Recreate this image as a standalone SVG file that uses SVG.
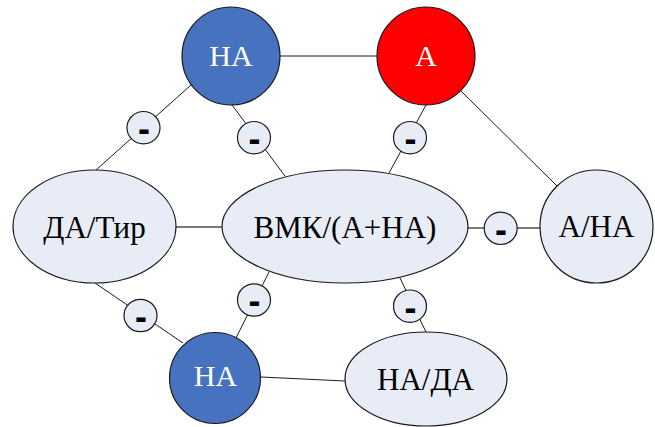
<svg xmlns="http://www.w3.org/2000/svg" width="655" height="427" viewBox="0 0 655 427">
  <style>
    .edge { stroke: #1a1a1a; stroke-width: 1; fill: none; }
    .edge-gray { stroke: #7a7a7a; stroke-width: 2.2; fill: none; }
    .node { stroke: #1a1a1a; stroke-width: 1.2; }
    .light { fill: #e7ecf6; }
    .blue { fill: #4672bf; }
    .red { fill: #ff0000; }
    .label { font-family: "Liberation Serif", "Times New Roman", serif; text-anchor: middle; }
    .big { font-size: 31px; fill: #000; }
    .white { font-size: 30px; fill: #ffffff; }
    .minus { font-family: "Liberation Sans", Arial, sans-serif; font-weight: bold; font-size: 36px; text-anchor: middle; fill: #000; }
  </style>
  <rect width="655" height="427" fill="#ffffff"/>

  <g id="connectors">
    <line class="edge" x1="191" y1="85" x2="96" y2="170"/>
    <line class="edge" x1="232" y1="105" x2="285" y2="176"/>
    <line class="edge" x1="426" y1="105" x2="389" y2="173"/>
    <line class="edge" x1="280" y1="56" x2="377" y2="56"/>
    <line class="edge" x1="461" y1="91" x2="557" y2="186"/>
    <line class="edge-gray" x1="176" y1="227" x2="222" y2="227"/>
    <line class="edge-gray" x1="468" y1="228" x2="540" y2="228"/>
    <line class="edge" x1="95" y1="283" x2="183" y2="343"/>
    <line class="edge" x1="269" y1="272" x2="236" y2="338"/>
    <line class="edge" x1="400" y1="278" x2="426" y2="332"/>
    <line class="edge" x1="261" y1="377" x2="345" y2="381"/>
  </g>

  <g id="na-top">
    <circle class="node blue" cx="231" cy="56" r="49"/>
    <text class="label white" x="231" y="66">НА</text>
  </g>
  <g id="a-red">
    <circle class="node red" cx="426" cy="56" r="49"/>
    <text class="label white" x="426" y="66">А</text>
  </g>
  <g id="da-tir">
    <ellipse class="node light" cx="94.5" cy="226.5" rx="81.5" ry="56.5"/>
    <text class="label big" x="94.5" y="237.5">ДА/Тир</text>
  </g>
  <g id="vmk">
    <ellipse class="node light" cx="345" cy="226.5" rx="123" ry="56.5"/>
    <text class="label big" x="345" y="237.5">ВМК/(А+НА)</text>
  </g>
  <g id="a-na">
    <circle class="node light" cx="596.5" cy="226.5" r="56.5"/>
    <text class="label big" x="596.5" y="237">А/НА</text>
  </g>
  <g id="na-bottom">
    <circle class="node blue" cx="215" cy="378" r="45.5"/>
    <text class="label white" x="215.5" y="386">НА</text>
  </g>
  <g id="na-da">
    <ellipse class="node light" cx="426" cy="379" rx="81" ry="47"/>
    <text class="label big" x="425.5" y="390">НА/ДА</text>
  </g>

  <g id="inhibit-1">
    <ellipse class="node light" cx="143.5" cy="127.7" rx="16.5" ry="16.2"/>
    <text class="minus" x="144" y="141">-</text>
  </g>
  <g id="inhibit-2">
    <ellipse class="node light" cx="254" cy="137.7" rx="16.5" ry="16.2"/>
    <text class="minus" x="254.5" y="151">-</text>
  </g>
  <g id="inhibit-3">
    <ellipse class="node light" cx="410" cy="137.7" rx="16.5" ry="16.2"/>
    <text class="minus" x="410.5" y="151">-</text>
  </g>
  <g id="inhibit-4">
    <ellipse class="node light" cx="500.7" cy="228.3" rx="16.5" ry="16.2"/>
    <text class="minus" x="501" y="241.5">-</text>
  </g>
  <g id="inhibit-5">
    <ellipse class="node light" cx="140.5" cy="315.5" rx="16.5" ry="16.2"/>
    <text class="minus" x="141" y="328.5">-</text>
  </g>
  <g id="inhibit-6">
    <ellipse class="node light" cx="254" cy="300" rx="16.5" ry="16.2"/>
    <text class="minus" x="254.5" y="313">-</text>
  </g>
  <g id="inhibit-7">
    <ellipse class="node light" cx="410" cy="306.2" rx="16.5" ry="16.2"/>
    <text class="minus" x="410.5" y="319.5">-</text>
  </g>
</svg>
